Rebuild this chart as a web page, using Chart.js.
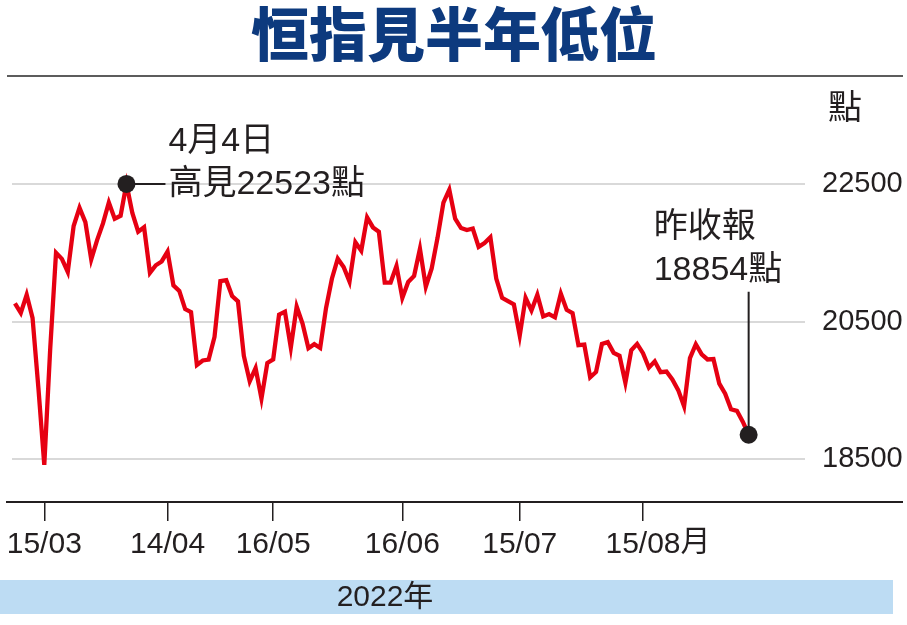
<!DOCTYPE html>
<html>
<head>
<meta charset="utf-8">
<title>恒指見半年低位</title>
<script src="https://cdn.jsdelivr.net/npm/chart.js@4.4.1/dist/chart.umd.min.js"></script>
<style>
  html, body { margin: 0; padding: 0; background: #fff; }
  #grafica { display: block; }
</style>
</head>
<body>
<canvas id="grafica" width="907" height="625"></canvas>
<script>
// trading days (dd/mm, 2022) and Hang Seng close
const fechas = [
  '08/03','09/03','10/03','11/03','14/03','15/03','16/03','17/03','18/03','21/03','22/03','23/03','24/03','25/03','28/03','29/03','30/03','31/03',
  '01/04','04/04','06/04','07/04','08/04','11/04','12/04','13/04','14/04','19/04','20/04','21/04','22/04','25/04','26/04','27/04','28/04','29/04',
  '03/05','04/05','05/05','06/05','10/05','11/05','12/05','13/05','16/05','17/05','18/05','19/05','20/05','23/05','24/05','25/05','26/05','27/05','30/05','31/05',
  '01/06','02/06','06/06','07/06','08/06','09/06','10/06','13/06','14/06','15/06','16/06','17/06','20/06','21/06','22/06','23/06','24/06','27/06','28/06','29/06','30/06',
  '04/07','05/07','06/07','07/07','08/07','11/07','12/07','13/07','14/07','15/07','18/07','19/07','20/07','21/07','22/07','25/07','26/07','27/07','28/07','29/07',
  '01/08','02/08','03/08','04/08','05/08','08/08','09/08','10/08','11/08','12/08','15/08','16/08','17/08','18/08','19/08','22/08','23/08','24/08','25/08','26/08','29/08','30/08','31/08',
  '01/09','02/09','05/09','06/09','07/09','08/09'
];
const cierres = [
  20765,20627,20890,20553,19531,18415,20087,21501,21412,21221,21889,22154,21946,21404,21684,21927,22232,21996,
  22039,22502,22080,21808,21872,21208,21319,21374,21518,21027,20945,20682,20638,19869,19934,19946,20276,21089,
  21101,20870,20793,20001,19633,19824,19381,19898,19950,20602,20644,20121,20717,20470,20112,20171,20116,20697,21123,21415,
  21294,21082,21653,21531,22014,21869,21806,21067,21068,21308,20845,21075,21163,21559,21008,21273,21719,22229,22418,21996,21860,
  21830,21853,21587,21643,21725,21124,20845,20797,20751,20297,20846,20661,20890,20575,20609,20562,20905,20670,20622,20156,
  20165,19689,19767,20174,20201,20045,20003,19610,20082,20175,20040,19830,19922,19763,19773,19657,19503,19268,19968,20170,20023,19949,19954,
  19597,19452,19225,19202,19044,18854
];
const fechasEje = ['15/03', '14/04', '16/05', '16/06', '15/07', '15/08'];
const ticksY = [18500, 20500, 22500];

const titulo = '恒指見半年低位';
const unidad = '點';
const anio = '2022年';
const mesSufijo = '月';
const notaAlto = ['4月4日', '高見22523點'];
const notaCierre = ['昨收報', '18854點'];
const fechaAlto = '04/04';

const FUENTE = '"Liberation Sans", "Noto Sans CJK TC", sans-serif';
const NEGRO = '#231f20';

const iAlto = fechas.indexOf(fechaAlto);
const iFin = cierres.length - 1;

// drawing of the title, frame lines, year band and the notes
const decor = {
  id: 'decor',
  beforeDraw(chart) {
    const ctx = chart.ctx;
    ctx.save();
    ctx.fillStyle = '#0d3a7e';
    ctx.font = '900 58px "Noto Sans CJK TC"';
    ctx.textAlign = 'center';
    ctx.textBaseline = 'middle';
    ctx.fillText(titulo, 454, 34);

    ctx.strokeStyle = '#5c5c5c';
    ctx.lineWidth = 2;
    ctx.beginPath();
    ctx.moveTo(7, 76); ctx.lineTo(903, 76);
    ctx.stroke();

    ctx.fillStyle = '#bddcf3';
    ctx.fillRect(0, 580, 893, 34);
    ctx.fillStyle = NEGRO;
    ctx.font = '30px ' + FUENTE;
    ctx.fillText(anio, 385, 598);

    ctx.font = '34px ' + FUENTE;
    ctx.fillText(unidad, 845, 110);
    ctx.restore();
  },
  beforeDatasetsDraw(chart) {
    const ctx = chart.ctx, x = chart.scales.x, y = chart.scales.y;
    const ax = x.getPixelForValue(iAlto), ay = y.getPixelForValue(cierres[iAlto]);
    const fx = x.getPixelForValue(iFin), fy = y.getPixelForValue(cierres[iFin]);
    ctx.save();
    ctx.strokeStyle = NEGRO;
    ctx.lineWidth = 2;
    ctx.beginPath();
    ctx.moveTo(ax, ay); ctx.lineTo(ax + 39, ay);
    ctx.moveTo(fx, fy); ctx.lineTo(fx, fy - 143);
    ctx.stroke();
    ctx.restore();
  },
  afterDraw(chart) {
    const ctx = chart.ctx, x = chart.scales.x, y = chart.scales.y;
    const ax = x.getPixelForValue(iAlto), ay = y.getPixelForValue(cierres[iAlto]);
    const fx = x.getPixelForValue(iFin), fy = y.getPixelForValue(cierres[iFin]);
    ctx.save();
    ctx.fillStyle = NEGRO;
    ctx.textAlign = 'left';
    ctx.textBaseline = 'middle';
    ctx.font = '34px ' + FUENTE;
    ctx.fillText(notaAlto[0], ax + 42, ay - 42);
    ctx.fillText(notaAlto[1], ax + 42, ay + 1);
    ctx.fillText(notaCierre[0], fx - 95, fy - 207);
    ctx.fillText(notaCierre[1], fx - 95, fy - 164);

    // x axis line across the full width
    ctx.strokeStyle = NEGRO;
    ctx.lineWidth = 2;
    ctx.beginPath();
    ctx.moveTo(6, chart.chartArea.bottom); ctx.lineTo(903, chart.chartArea.bottom);
    ctx.stroke();

    // "月" after the last date label
    ctx.font = '30px ' + FUENTE;
    const ult = fechasEje[fechasEje.length - 1];
    const px = x.getPixelForValue(fechas.indexOf(ult)) + ctx.measureText(ult).width / 2;
    ctx.fillText(mesSufijo, px, 543);
    ctx.restore();
  }
};

const grafica = document.getElementById('grafica');
new Chart(grafica, {
  type: 'line',
  data: {
    datasets: [{
      data: [{ x: iAlto, y: cierres[iAlto] }, { x: iFin, y: cierres[iFin] }],
      showLine: false,
      pointRadius: 9,
      pointBackgroundColor: NEGRO,
      pointBorderWidth: 0,
      order: 0
    }, {
      data: cierres.map((v, i) => ({ x: i, y: v })),
      borderColor: '#e60012',
      borderWidth: 4.3,
      pointRadius: 0,
      tension: 0,
      order: 1
    }]
  },
  options: {
    responsive: false,
    animation: false,
    devicePixelRatio: 1,
    layout: { padding: { top: 76, left: 12, right: 0, bottom: 0 } },
    plugins: { legend: { display: false }, tooltip: { enabled: false }, title: { display: false } },
    scales: {
      x: {
        type: 'linear',
        min: -0.5,
        max: 134.6,
        afterFit: s => { s.height = 123; },
        afterBuildTicks: s => { s.ticks = fechasEje.map(f => ({ value: fechas.indexOf(f) })); },
        grid: { drawOnChartArea: false, drawTicks: true, tickLength: 19, color: NEGRO, lineWidth: 1.5 },
        border: { display: false },
        ticks: {
          autoSkip: false,
          maxRotation: 0,
          padding: 6,
          color: NEGRO,
          font: { family: FUENTE, size: 30 },
          callback: v => fechas[v]
        }
      },
      y: {
        position: 'right',
        min: 17876,
        max: 24071,
        afterFit: s => { s.width = 102; },
        afterBuildTicks: s => { s.ticks = ticksY.map(v => ({ value: v })); },
        grid: { color: '#d9d9d9', lineWidth: 2, drawTicks: false },
        border: { display: false },
        ticks: {
          padding: 17,
          color: NEGRO,
          font: { family: FUENTE, size: 29 },
          callback: v => String(v)
        }
      }
    }
  },
  plugins: [decor]
});
</script>
</body>
</html>
